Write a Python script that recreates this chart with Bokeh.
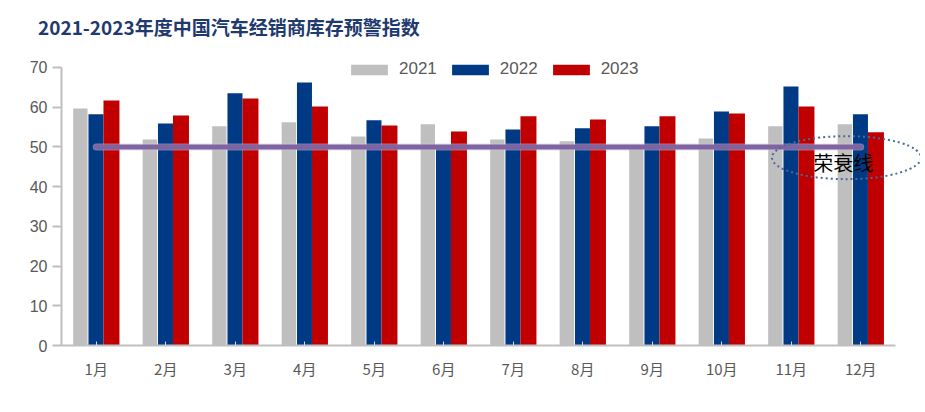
from bokeh.plotting import figure
from bokeh.models import Range1d, FixedTicker, Legend, LegendItem, Div
from bokeh.layouts import column
from bokeh.embed import file_html
from bokeh.resources import INLINE
from bokeh.core.properties import value
import numpy as np

months = ["1月", "2月", "3月", "4月", "5月", "6月", "7月", "8月", "9月", "10月", "11月", "12月"]
v2021 = [59.7, 51.9, 55.2, 56.2, 52.6, 55.7, 51.9, 51.4, 49.5, 52.1, 55.2, 55.7]
v2022 = [58.2, 55.9, 63.5, 66.2, 56.7, 49.6, 54.4, 54.7, 55.2, 58.9, 65.2, 58.2]
v2023 = [61.7, 57.9, 62.2, 60.2, 55.4, 53.9, 57.7, 56.9, 57.7, 58.4, 60.2, 53.7]
years = ["2021", "2022", "2023"]
threshold = 50
threshold_label = "荣衰线"
title = "2021-2023年度中国汽车经销商库存预警指数"

colors = ["#BFBFBF", "#003A85", "#C00000"]
offsets = [-0.229, -0.004, 0.219]
widths = [0.206, 0.216, 0.23]

n = len(months)
centers = np.arange(n) + 0.5

head = Div(text=title, width=920, height=45, margin=(0, 0, 0, 0),
           styles={"font-family": "Noto Sans CJK SC", "font-size": "19px", "font-weight": "bold",
                   "color": "#1F3A6E", "padding-left": "38px", "padding-top": "15px",
                   "line-height": "24px", "box-sizing": "border-box"})

p = figure(width=920, height=355, output_backend="svg", toolbar_location=None,
           x_range=Range1d(0, 12.36), y_range=Range1d(0, 73.02), margin=(0, 0, 0, 0),
           min_border_left=61, min_border_right=0, min_border_top=10, min_border_bottom=55)
p.outline_line_color = None
p.grid.visible = False
p.background_fill_color = "white"
p.border_fill_color = "white"

renderers = []
for vals, c, off, w in zip([v2021, v2022, v2023], colors, offsets, widths):
    r = p.vbar(x=centers + off, top=vals, width=w, bottom=0, fill_color=c, line_color=None)
    renderers.append(r)

# threshold line
p.line(x=[centers[0], centers[-1]], y=[threshold, threshold], line_color="#CFC6DE",
       line_width=7, line_alpha=0.5, line_cap="round")
p.line(x=[centers[0], centers[-1]], y=[threshold, threshold], line_color="#8064A2",
       line_width=5, line_cap="round")

# ellipse annotation
p.ellipse(x=[11.295], y=[47.3], width=149, height=43, width_units="screen", height_units="screen",
          fill_color=None, line_color="#4A6A9A", line_width=2, line_dash="2 3")
p.text(x=[11.25], y=[45.96], text=[threshold_label], text_font=value("Noto Sans CJK SC"),
       text_font_size="20px", text_color="black", text_align="center", text_baseline="middle")

# axes
yax = p.yaxis[0]
yax.ticker = FixedTicker(ticks=list(range(0, 71, 10)))
yax.bounds = (0, 70)
yax.axis_line_color = "#BFBFBF"
yax.axis_line_width = 2
yax.major_tick_line_color = "#BFBFBF"
yax.major_tick_line_width = 2
yax.major_tick_out = 9
yax.major_tick_in = 0
yax.minor_tick_line_color = None
yax.major_label_text_font = "Liberation Sans"
yax.major_label_text_font_size = "16px"
yax.major_label_text_color = "#595959"
yax.major_label_standoff = 5

xax = p.xaxis[0]
xax.ticker = FixedTicker(ticks=list(centers))
xax.major_label_overrides = {float(c): m for c, m in zip(centers, months)}
xax.bounds = (0, 12)
xax.axis_line_color = "#BFBFBF"
xax.axis_line_width = 2
xax.major_tick_line_color = "#D9D9D9"
xax.major_tick_in = 4
xax.major_tick_out = 0
xax.minor_tick_line_color = None
xax.major_label_text_font = "Noto Sans CJK SC"
xax.major_label_text_font_size = "15px"
xax.major_label_text_color = "#595959"
xax.major_label_standoff = 12

legend = Legend(items=[LegendItem(label=y, renderers=[r]) for y, r in zip(years, renderers)],
                orientation="horizontal", location=(285, 266),
                glyph_width=46, glyph_height=13, label_standoff=7, spacing=10,
                padding=0, margin=0, border_line_color=None, background_fill_alpha=0,
                label_text_font="Liberation Sans", label_text_font_size="17px",
                label_text_color="#595959")
p.add_layout(legend)

layout = column(head, p, spacing=0, margin=(0, 0, 0, 0))
open("out.html", "w").write(file_html(layout, INLINE))
